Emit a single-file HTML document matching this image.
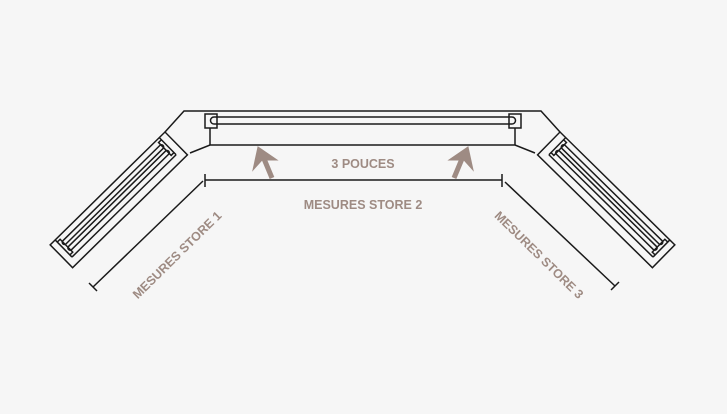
<!DOCTYPE html>
<html><head><meta charset="utf-8"><style>
html,body{margin:0;padding:0;background:#f6f6f6;}
svg{display:block;}
text{font-family:"Liberation Sans",sans-serif;font-weight:bold;fill:#9e8b83;}
</style></head><body>
<svg width="727" height="414" viewBox="0 0 727 414" xmlns="http://www.w3.org/2000/svg">
<rect width="727" height="414" fill="#f6f6f6"/>
<defs>
<g id="side" fill="none" stroke="#1a1a1a" stroke-width="1.5">
  <rect x="0" y="0" width="161" height="32"/>
  <line x1="8" y1="0" x2="8" y2="24"/>
  <line x1="154" y1="0" x2="154" y2="24"/>
  <line x1="8" y1="24" x2="154" y2="24"/>
  <path d="M13 6 H149 a2.2 2.2 0 0 1 0 4.4 H13 a2.2 2.2 0 0 1 0 -4.4 Z"/>
  <path d="M13 14 H149 a2.2 2.2 0 0 1 0 4.4 H13 a2.2 2.2 0 0 1 0 -4.4 Z"/>
  <path d="M8 3 h4 v18 h-4"/>
  <path d="M154 3 h-4 v18 h4"/>
</g>
</defs>
<g fill="none" stroke="#1a1a1a" stroke-width="1.5">
  <polyline points="165,132 184,111 541,111 560,132"/>
  <polyline points="190,153 210,145 515,145 535,153"/>
  <rect x="205" y="114" width="12" height="14"/>
  <rect x="509" y="114" width="12" height="14"/>
  <line x1="210" y1="128" x2="210" y2="145"/>
  <line x1="515" y1="128" x2="515" y2="145"/>
  <path d="M214 117 H512 a3.5 3.5 0 0 1 0 7 H214 a3.5 3.5 0 0 1 0 -7 Z"/>
  <line x1="205" y1="180" x2="502" y2="180"/>
  <line x1="205" y1="174" x2="205" y2="187"/>
  <line x1="502" y1="174" x2="502" y2="187"/>
  <line x1="93" y1="287" x2="203" y2="181"/>
  <line x1="89" y1="283" x2="97" y2="291"/>
  <line x1="505" y1="182" x2="615" y2="286"/>
  <line x1="611" y1="290" x2="619" y2="282"/>
</g>
<use href="#side" transform="translate(560,132) rotate(44.5)"/>
<g transform="translate(725,0) scale(-1,1)"><use href="#side" transform="translate(560,132) rotate(44.5)"/></g>
<g fill="#9e8b83" stroke="#9e8b83">
  <line x1="272" y1="178" x2="262" y2="154" stroke-width="5"/>
  <polygon points="258,147 253,170 262,160 277,160" stroke-width="1"/>
  <line x1="454" y1="178" x2="464" y2="154" stroke-width="5"/>
  <polygon points="468,147 473,170 464,160 449,160" stroke-width="1"/>
</g>
<text x="363" y="168" font-size="12.5" text-anchor="middle">3 POUCES</text>
<text x="363" y="209" font-size="12.5" text-anchor="middle">MESURES STORE 2</text>
<text x="0" y="0" font-size="12.5" text-anchor="middle" transform="translate(180,258) rotate(-44.5)">MESURES STORE 1</text>
<text x="0" y="0" font-size="12.5" text-anchor="middle" transform="translate(536,258) rotate(44.5)">MESURES STORE 3</text>
</svg>
</body></html>
